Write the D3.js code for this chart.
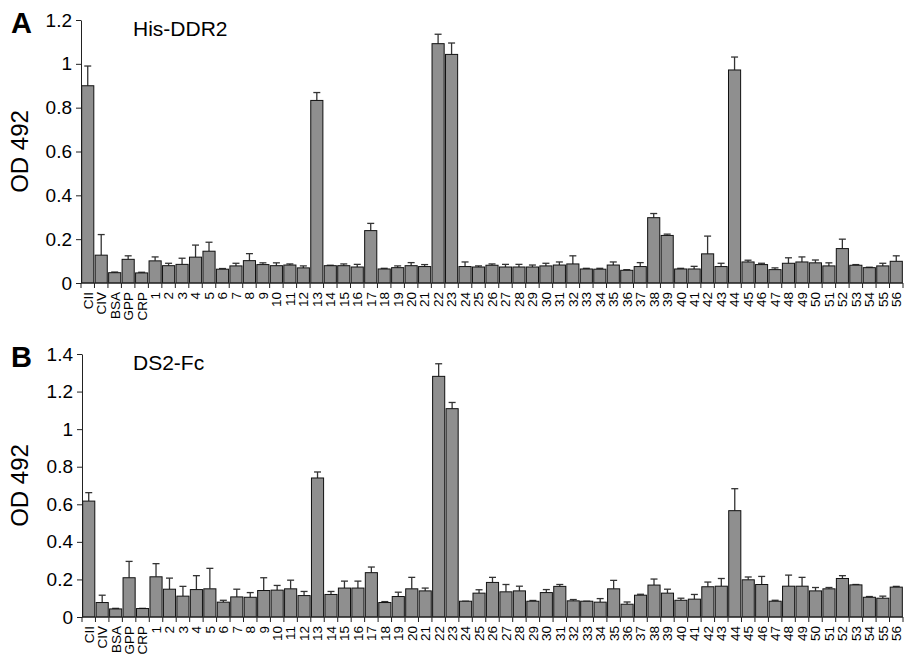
<!DOCTYPE html>
<html>
<head>
<meta charset="utf-8">
<script src="https://cdn.jsdelivr.net/npm/d3@7"></script>
<style>
  body { margin: 0; background: #fff; }
  svg { display: block; font-family: "Liberation Sans", Arial, Helvetica, sans-serif; }
</style>
</head>
<body>
<div id="chart"></div>
<script>
// categories along the x axis
var categories = ["CII", "CIV", "BSA", "GPP", "CRP"];
for (var n = 1; n <= 56; n++) categories.push(String(n));

// panel A: His-DDR2, mean OD 492 and error (upper bar only)
var ddr2Mean = [0.90, 0.127, 0.047, 0.108, 0.046,
  0.101, 0.079, 0.085, 0.118, 0.145, 0.063, 0.078, 0.102, 0.084, 0.079,
  0.082, 0.069, 0.833, 0.079, 0.079, 0.073, 0.239, 0.064, 0.070, 0.079,
  0.075, 1.092, 1.043, 0.075, 0.073, 0.081, 0.073, 0.073, 0.073, 0.078,
  0.082, 0.087, 0.064, 0.063, 0.082, 0.058, 0.075, 0.298, 0.217, 0.064,
  0.064, 0.133, 0.075, 0.972, 0.096, 0.084, 0.061, 0.090, 0.096, 0.092,
  0.078, 0.157, 0.081, 0.070, 0.078, 0.099];
var ddr2Err = [0.09, 0.094, 0.003, 0.016, 0.003,
  0.018, 0.011, 0.028, 0.055, 0.041, 0.003, 0.012, 0.032, 0.008, 0.013,
  0.005, 0.009, 0.036, 0.002, 0.008, 0.012, 0.033, 0.003, 0.008, 0.014,
  0.009, 0.043, 0.052, 0.021, 0.005, 0.006, 0.012, 0.012, 0.009, 0.012,
  0.014, 0.037, 0.003, 0.004, 0.014, 0.003, 0.018, 0.019, 0.006, 0.003,
  0.012, 0.081, 0.015, 0.059, 0.008, 0.006, 0.008, 0.025, 0.023, 0.013,
  0.014, 0.043, 0.003, 0.002, 0.012, 0.025];

// panel B: DS2-Fc
var ds2Mean = [0.617, 0.077, 0.043, 0.209, 0.045,
  0.214, 0.148, 0.111, 0.146, 0.150, 0.079, 0.107, 0.105, 0.141, 0.143,
  0.150, 0.114, 0.740, 0.120, 0.154, 0.154, 0.236, 0.077, 0.109, 0.150,
  0.139, 1.281, 1.109, 0.084, 0.127, 0.184, 0.134, 0.139, 0.084, 0.130,
  0.163, 0.086, 0.084, 0.079, 0.150, 0.068, 0.116, 0.170, 0.127, 0.089,
  0.095, 0.161, 0.164, 0.566, 0.198, 0.173, 0.084, 0.164, 0.164, 0.139,
  0.150, 0.205, 0.171, 0.105, 0.100, 0.159];
var ds2Err = [0.045, 0.039, 0.003, 0.087, 0.001,
  0.070, 0.059, 0.052, 0.074, 0.109, 0.010, 0.041, 0.025, 0.068, 0.025,
  0.046, 0.022, 0.032, 0.016, 0.037, 0.037, 0.030, 0.005, 0.023, 0.061,
  0.015, 0.067, 0.033, 0.0, 0.018, 0.027, 0.039, 0.025, 0.004, 0.016,
  0.010, 0.007, 0.0, 0.019, 0.045, 0.012, 0.005, 0.032, 0.021, 0.011,
  0.025, 0.025, 0.041, 0.117, 0.015, 0.043, 0.005, 0.059, 0.047, 0.018,
  0.007, 0.015, 0.002, 0.004, 0.011, 0.004];

var ticksA = [0, 0.2, 0.4, 0.6, 0.8, 1, 1.2];
var ticksB = [0, 0.2, 0.4, 0.6, 0.8, 1, 1.2, 1.4];

var W = 906, H = 663;
var svg = d3.select("#chart").append("svg")
  .attr("width", W)
  .attr("height", H);

function drawPanel(opt) {
  var x = d3.scaleBand()
    .domain(categories)
    .range([opt.left, opt.right])
    .paddingInner(0.1)
    .paddingOuter(0.05);

  var ymax = opt.ticks[opt.ticks.length - 1];
  var y = d3.scaleLinear()
    .domain([0, ymax])
    .range([opt.bottom, opt.top]);

  var g = svg.append("g");

  // panel letter + title
  g.append("text")
    .attr("x", 11).attr("y", opt.top + 13)
    .style("font-size", "29px").style("font-weight", "bold")
    .text(opt.letter);
  g.append("text")
    .attr("x", 133).attr("y", opt.top + 16)
    .style("font-size", "21px")
    .text(opt.title);

  // y axis
  var yAxis = d3.axisLeft(y)
    .tickValues(opt.ticks)
    .tickFormat(function(d) { return String(d); })
    .tickSize(5)
    .tickSizeOuter(0)
    .tickPadding(4);
  var ya = g.append("g")
    .attr("transform", "translate(" + opt.left + ",0)")
    .call(yAxis);
  ya.selectAll("text").style("font-size", "19px").attr("fill", "#000");
  ya.selectAll("line, path").attr("stroke", "#222");

  g.append("text")
    .attr("transform", "translate(28," + ((opt.top + opt.bottom) / 2) + ")rotate(-90)")
    .attr("text-anchor", "middle")
    .style("font-size", "24px")
    .text("OD 492");

  // error bars (upper half only)
  var vals = categories.map(function(c, i) {
    return {cat: c, mean: opt.mean[i], err: opt.err[i]};
  });

  var eb = g.selectAll(".err").data(vals).enter().append("g");
  eb.append("line")
    .attr("x1", function(d) { return x(d.cat) + x.bandwidth() / 2; })
    .attr("x2", function(d) { return x(d.cat) + x.bandwidth() / 2; })
    .attr("y1", function(d) { return y(d.mean); })
    .attr("y2", function(d) { return y(d.mean + d.err); })
    .attr("stroke", "#333").attr("stroke-width", 1.3);
  eb.append("line")
    .attr("x1", function(d) { return x(d.cat) + x.bandwidth() / 2 - 3.5; })
    .attr("x2", function(d) { return x(d.cat) + x.bandwidth() / 2 + 3.5; })
    .attr("y1", function(d) { return y(d.mean + d.err); })
    .attr("y2", function(d) { return y(d.mean + d.err); })
    .attr("stroke", "#333").attr("stroke-width", 1.3);

  // bars
  g.selectAll(".bar").data(vals).enter().append("rect")
    .attr("x", function(d) { return x(d.cat); })
    .attr("width", x.bandwidth())
    .attr("y", function(d) { return y(d.mean); })
    .attr("height", function(d) { return y(0) - y(d.mean); })
    .attr("fill", "#8f8f8f")
    .attr("stroke", "#111")
    .attr("stroke-width", 1);

  // x axis line with ticks at band boundaries
  g.append("line")
    .attr("x1", opt.left).attr("x2", opt.right)
    .attr("y1", y(0)).attr("y2", y(0))
    .attr("stroke", "#222").attr("stroke-width", 1);
  var half = (x.step() - x.bandwidth()) / 2;
  var bounds = categories.map(function(c) { return x(c) - half; });
  bounds.push(x(categories[categories.length - 1]) + x.bandwidth() + half);
  g.selectAll(".xt").data(bounds).enter().append("line")
    .attr("x1", function(d) { return d; }).attr("x2", function(d) { return d; })
    .attr("y1", y(0)).attr("y2", y(0) + 5)
    .attr("stroke", "#222");

  // category labels, rotated
  g.selectAll(".xl").data(categories).enter().append("text")
    .attr("transform", function(d) {
      return "translate(" + (x(d) + x.bandwidth() / 2) + "," + (y(0) + 9) + ")rotate(-90)";
    })
    .attr("text-anchor", "end")
    .attr("dy", "0.36em")
    .style("font-size", "13.5px")
    .text(function(d) { return d; });
}

drawPanel({letter: "A", title: "His-DDR2", mean: ddr2Mean, err: ddr2Err,
  ticks: ticksA, left: 81, right: 903, top: 20, bottom: 283});
drawPanel({letter: "B", title: "DS2-Fc", mean: ds2Mean, err: ds2Err,
  ticks: ticksB, left: 82, right: 903, top: 354, bottom: 617});
</script>
</body>
</html>
